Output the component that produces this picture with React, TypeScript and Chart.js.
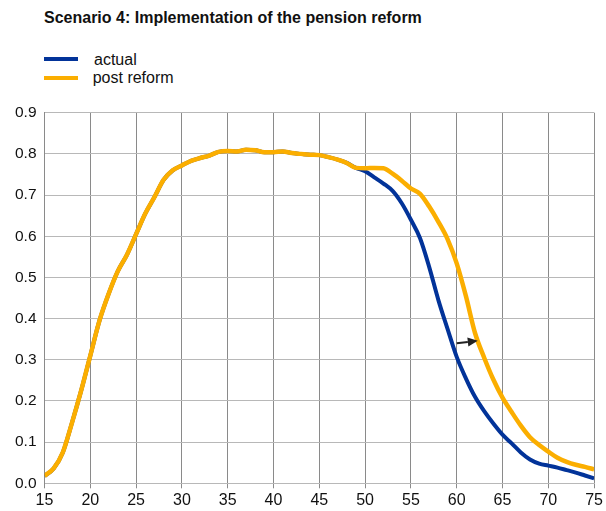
import React, { useEffect, useRef } from "react";
import { Chart, registerables } from "chart.js";

Chart.register(...registerables);

const TITLE = "Scenario 4: Implementation of the pension reform";
const SERIES_NAMES = ["actual", "post reform"];
const SERIES_COLORS = ["#023399", "#fbae00"];

const ages = [
  15, 16, 17, 18, 19, 20, 21, 22, 23, 24, 25, 26, 27, 28, 29, 30, 31, 32, 33, 34,
  35, 36, 37, 38, 39, 40, 41, 42, 43, 44, 45, 46, 47, 48, 49, 50, 51, 52, 53, 54,
  55, 56, 57, 58, 59, 60, 61, 62, 63, 64, 65, 66, 67, 68, 69, 70, 71, 72, 73, 74, 75,
];

const actual = [
  0.018, 0.036, 0.075, 0.147, 0.225, 0.31, 0.395, 0.46, 0.515, 0.555,
  0.605, 0.655, 0.695, 0.737, 0.76, 0.772, 0.783, 0.79, 0.796, 0.805,
  0.807, 0.806, 0.81, 0.809, 0.804, 0.804, 0.806, 0.802, 0.8, 0.798,
  0.797, 0.792, 0.786, 0.778, 0.766, 0.758, 0.743, 0.728, 0.71, 0.68,
  0.64, 0.595, 0.525, 0.445, 0.375, 0.307, 0.255, 0.21, 0.175, 0.145,
  0.118, 0.097, 0.075, 0.058, 0.048, 0.043, 0.038, 0.032, 0.026, 0.019,
  0.012,
];

const postReform = [
  0.018, 0.036, 0.075, 0.147, 0.225, 0.31, 0.395, 0.46, 0.515, 0.555,
  0.605, 0.655, 0.695, 0.737, 0.76, 0.772, 0.783, 0.79, 0.796, 0.805,
  0.807, 0.806, 0.81, 0.809, 0.804, 0.804, 0.806, 0.802, 0.8, 0.798,
  0.797, 0.792, 0.786, 0.778, 0.766, 0.765, 0.766, 0.765, 0.752, 0.735,
  0.716, 0.703, 0.672, 0.635, 0.593, 0.534, 0.455, 0.365, 0.305, 0.252,
  0.208, 0.173, 0.14, 0.112, 0.093, 0.077, 0.062, 0.052, 0.045, 0.04,
  0.034,
];

const X_MIN = 15;
const X_MAX = 75;
const X_STEP = 5;
const Y_MIN = 0;
const Y_MAX = 0.9;
const Y_STEP = 0.1;

// shift arrow (data coordinates): start and end
const arrowFrom = [60, 0.34];
const arrowTo = [62.3, 0.346];

const FONT = "'Liberation Sans', Arial, Helvetica, sans-serif";

const arrowPlugin = {
  id: "shiftArrow",
  afterDatasetsDraw(chart: any) {
    const { ctx, scales } = chart;
    const x1 = scales.x.getPixelForValue(arrowFrom[0]);
    const y1 = scales.y.getPixelForValue(arrowFrom[1]);
    const x2 = scales.x.getPixelForValue(arrowTo[0]);
    const y2 = scales.y.getPixelForValue(arrowTo[1]);
    const ang = Math.atan2(y2 - y1, x2 - x1);
    const headLen = 10;
    const headW = 4.5;
    const bx = x2 - headLen * Math.cos(ang);
    const by = y2 - headLen * Math.sin(ang);
    ctx.save();
    ctx.strokeStyle = "#222222";
    ctx.fillStyle = "#222222";
    ctx.lineWidth = 2;
    ctx.beginPath();
    ctx.moveTo(x1, y1);
    ctx.lineTo(bx, by);
    ctx.stroke();
    ctx.beginPath();
    ctx.moveTo(x2, y2);
    ctx.lineTo(bx + headW * Math.sin(ang), by - headW * Math.cos(ang));
    ctx.lineTo(bx - headW * Math.sin(ang), by + headW * Math.cos(ang));
    ctx.closePath();
    ctx.fill();
    ctx.restore();
  },
};

export default function App() {
  const canvasRef = useRef<HTMLCanvasElement | null>(null);

  useEffect(() => {
    if (!canvasRef.current) return;
    const toPoints = (vals: number[]) => ages.map((a, i) => ({ x: a, y: vals[i] }));
    const chart = new Chart(canvasRef.current, {
      type: "line",
      data: {
        datasets: [
          {
            label: SERIES_NAMES[1],
            data: toPoints(postReform),
            borderColor: SERIES_COLORS[1],
            backgroundColor: SERIES_COLORS[1],
            borderWidth: 4.5,
            pointRadius: 0,
            cubicInterpolationMode: "monotone",
            fill: false,
          },
          {
            label: SERIES_NAMES[0],
            data: toPoints(actual),
            borderColor: SERIES_COLORS[0],
            backgroundColor: SERIES_COLORS[0],
            borderWidth: 4,
            pointRadius: 0,
            cubicInterpolationMode: "monotone",
            fill: false,
          },
        ],
      },
      options: {
        animation: false,
        responsive: true,
        maintainAspectRatio: false,
        layout: { padding: { top: 22.7, right: 9.3, bottom: 0, left: 0 } },
        plugins: {
          legend: { display: false },
          title: { display: false },
          tooltip: { enabled: false },
        },
        scales: {
          x: {
            type: "linear",
            min: X_MIN,
            max: X_MAX,
            ticks: {
              stepSize: X_STEP,
              color: "#111111",
              font: { family: FONT, size: 16 },
              padding: 3,
              maxRotation: 0,
            },
            grid: { color: "#8a8a8a", lineWidth: 1, tickLength: 5, drawTicks: true },
            border: { color: "#b8b8b8", width: 1 },
            afterFit(scale: any) {
              scale.height = 27.7;
            },
          },
          y: {
            type: "linear",
            min: Y_MIN,
            max: Y_MAX,
            ticks: {
              stepSize: Y_STEP,
              color: "#111111",
              font: { family: FONT, size: 15.5 },
              padding: 8,
              callback: (v: any) => Number(v).toFixed(1),
            },
            grid: { color: "#b8b8b8", lineWidth: 1, drawTicks: false },
            border: { color: "#8a8a8a", width: 1 },
            afterFit(scale: any) {
              scale.width = 44.5;
            },
          },
        },
      },
      plugins: [arrowPlugin],
    });
    return () => chart.destroy();
  }, []);

  return (
    <div
      style={{
        position: "absolute",
        left: 0,
        top: 0,
        width: 606,
        height: 511,
        background: "#ffffff",
        fontFamily: FONT,
        color: "#111111",
        overflow: "hidden",
      }}
    >
      <div
        style={{
          position: "absolute",
          left: 44,
          top: 9.5,
          fontSize: 16,
          lineHeight: 1,
          fontWeight: "bold",
          whiteSpace: "nowrap",
        }}
      >
        {TITLE}
      </div>
      {SERIES_NAMES.map((name, i) => (
        <React.Fragment key={name}>
          <div
            style={{
              position: "absolute",
              left: 44,
              top: (i === 0 ? 57 : 75.7),
              width: 34,
              height: 4,
              background: SERIES_COLORS[i],
            }}
          />
          <div
            style={{
              position: "absolute",
              left: i === 0 ? 94 : 92.7,
              top: i === 0 ? 51.5 : 69.5,
              fontSize: 16,
              lineHeight: 1,
              whiteSpace: "nowrap",
            }}
          >
            {name}
          </div>
        </React.Fragment>
      ))}
      <div style={{ position: "absolute", left: 0, top: 90, width: 606, height: 421 }}>
        <canvas ref={canvasRef} />
      </div>
    </div>
  );
}
